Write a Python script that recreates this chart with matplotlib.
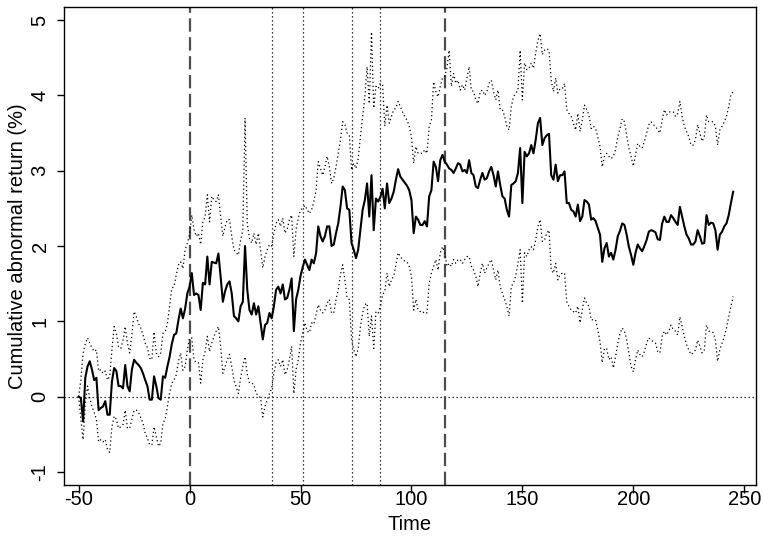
import matplotlib
matplotlib.use("Agg")
import matplotlib.pyplot as plt

# event time (days)
days = list(range(-50, 246))

# cumulative abnormal return (%), mean
car_mean = [
    0.00, -0.02, -0.33, 0.25, 0.40, 0.47, 0.36, 0.22, 0.25, -0.18,
    -0.15, -0.13, -0.06, -0.24, -0.24, 0.20, 0.38, 0.34, 0.14, 0.14,
    0.11, 0.42, 0.14, 0.07, 0.36, 0.49, 0.45, 0.42, 0.38, 0.31,
    0.22, 0.14, -0.04, -0.04, 0.27, 0.14, -0.02, -0.04, 0.27, 0.25,
    0.40, 0.53, 0.70, 0.82, 0.84, 1.02, 1.17, 1.04, 1.17, 1.37,
    1.46, 1.64, 1.35, 1.37, 1.35, 1.15, 1.51, 1.49, 1.86, 1.49,
    1.79, 1.78, 1.77, 1.90, 1.59, 1.26, 1.40, 1.49, 1.53, 1.37,
    1.07, 1.04, 1.00, 1.20, 1.26, 2.00, 1.42, 1.15, 1.09, 1.24,
    1.09, 1.20, 0.98, 0.76, 0.95, 0.98, 1.11, 1.04, 1.20, 1.42,
    1.46, 1.37, 1.49, 1.29, 1.31, 1.42, 1.57, 0.87, 1.29, 1.42,
    1.60, 1.72, 1.82, 1.75, 1.68, 1.82, 1.77, 1.90, 2.26, 2.13,
    2.06, 2.13, 2.26, 2.26, 2.00, 2.02, 2.17, 2.30, 2.52, 2.79,
    2.74, 2.50, 2.48, 2.04, 1.95, 1.84, 1.95, 2.21, 2.48, 2.61,
    2.83, 2.39, 2.94, 2.21, 2.63, 2.59, 2.65, 2.76, 2.50, 2.83,
    2.57, 2.63, 2.72, 2.88, 3.02, 2.92, 2.88, 2.84, 2.80, 2.74,
    2.61, 2.17, 2.39, 2.35, 2.28, 2.28, 2.33, 2.26, 2.66, 2.74,
    3.12, 3.05, 2.86, 3.14, 3.21, 3.12, 3.08, 3.03, 3.01, 2.97,
    3.03, 3.10, 3.08, 2.99, 3.01, 2.97, 3.14, 2.97, 2.94, 2.79,
    2.77, 2.88, 2.97, 2.88, 2.90, 2.99, 3.05, 2.94, 2.79, 2.99,
    2.81, 2.66, 2.63, 2.48, 2.39, 2.81, 2.83, 2.86, 2.97, 3.30,
    2.57, 3.25, 3.19, 3.23, 3.34, 3.23, 3.41, 3.63, 3.70, 3.34,
    3.43, 3.47, 3.49, 2.94, 2.88, 3.08, 2.86, 2.94, 2.94, 2.99,
    2.57, 2.57, 2.48, 2.46, 2.39, 2.55, 2.33, 2.39, 2.61, 2.59,
    2.55, 2.35, 2.37, 2.33, 2.24, 2.15, 1.79, 1.97, 2.04, 1.86,
    1.91, 1.82, 1.95, 2.13, 2.20, 2.30, 2.28, 2.15, 1.99, 1.88,
    1.75, 1.91, 2.02, 1.97, 1.93, 2.00, 2.08, 2.19, 2.21, 2.20,
    2.18, 2.09, 2.08, 2.30, 2.39, 2.32, 2.32, 2.41, 2.37, 2.32,
    2.28, 2.52, 2.39, 2.26, 2.15, 2.10, 2.02, 2.02, 2.06, 2.21,
    2.13, 2.03, 2.04, 2.41, 2.28, 2.31, 2.30, 2.21, 1.95, 2.15,
    2.19, 2.26, 2.30, 2.41, 2.57, 2.72,
]

# upper confidence band
car_upper = [
    0.00, 0.22, 0.58, 0.70, 0.78, 0.71, 0.65, 0.60, 0.62, 0.34,
    0.36, 0.31, 0.34, 0.22, 0.27, 0.62, 0.93, 0.84, 0.66, 0.64,
    0.75, 0.93, 0.71, 0.58, 0.82, 1.13, 1.06, 0.97, 0.91, 0.82,
    0.71, 0.65, 0.51, 0.49, 0.86, 0.58, 0.53, 0.58, 0.84, 0.86,
    0.97, 1.20, 1.44, 1.46, 1.62, 1.75, 1.79, 1.70, 1.95, 2.04,
    2.15, 2.41, 2.22, 2.13, 2.17, 2.02, 2.32, 2.39, 2.68, 2.32,
    2.66, 2.61, 2.59, 2.68, 2.39, 2.13, 2.26, 2.35, 2.35, 2.13,
    1.95, 1.91, 1.88, 2.08, 2.21, 3.70, 2.30, 2.10, 2.04, 2.17,
    2.02, 2.17, 1.95, 1.71, 1.86, 1.95, 2.02, 2.00, 2.17, 2.30,
    2.35, 2.26, 2.37, 2.17, 2.22, 2.35, 2.41, 1.86, 2.22, 2.37,
    2.48, 2.50, 2.54, 2.48, 2.43, 2.48, 2.59, 2.74, 3.12, 3.03,
    2.94, 3.05, 3.19, 3.05, 2.83, 2.90, 3.05, 3.23, 3.41, 3.65,
    3.61, 3.50, 3.47, 3.01, 3.10, 3.03, 3.16, 3.45, 3.72, 3.98,
    4.38, 3.89, 4.84, 3.83, 4.12, 4.09, 4.16, 4.14, 3.59, 3.87,
    3.63, 3.72, 3.81, 3.83, 3.92, 3.85, 3.78, 3.72, 3.67, 3.59,
    3.45, 3.10, 3.32, 3.23, 3.23, 3.23, 3.28, 3.23, 3.59, 3.67,
    4.18, 4.05, 3.98, 4.12, 4.23, 4.25, 4.36, 4.60, 4.12, 4.29,
    4.16, 4.20, 4.07, 4.14, 4.07, 4.23, 4.38, 4.07, 4.05, 3.94,
    3.89, 4.05, 4.07, 4.00, 4.05, 4.16, 4.20, 4.05, 3.94, 4.07,
    3.81, 3.81, 3.72, 3.59, 3.54, 3.85, 3.98, 4.03, 4.07, 4.60,
    3.94, 4.43, 4.34, 4.36, 4.43, 4.36, 4.56, 4.73, 4.82, 4.54,
    4.60, 4.62, 4.60, 4.20, 4.05, 4.23, 4.03, 4.09, 4.09, 4.16,
    3.81, 3.76, 3.72, 3.63, 3.54, 3.76, 3.52, 3.67, 3.87, 3.81,
    3.74, 3.56, 3.59, 3.56, 3.45, 3.32, 3.05, 3.19, 3.23, 3.19,
    3.16, 3.19, 3.28, 3.45, 3.56, 3.69, 3.65, 3.47, 3.30, 3.19,
    3.06, 3.21, 3.36, 3.32, 3.30, 3.39, 3.50, 3.61, 3.65, 3.61,
    3.59, 3.54, 3.50, 3.67, 3.81, 3.74, 3.78, 3.78, 3.78, 3.72,
    3.76, 3.92, 3.72, 3.59, 3.52, 3.45, 3.34, 3.34, 3.41, 3.61,
    3.50, 3.39, 3.45, 3.74, 3.65, 3.65, 3.65, 3.59, 3.34, 3.54,
    3.59, 3.65, 3.72, 3.85, 4.01, 4.05,
]

# lower confidence band
car_lower = [
    0.00, -0.30, -0.57, -0.10, 0.14, -0.02, -0.13, -0.21, -0.30, -0.60,
    -0.57, -0.60, -0.57, -0.70, -0.74, -0.40, -0.26, -0.30, -0.42, -0.40,
    -0.37, -0.18, -0.42, -0.42, -0.30, -0.18, -0.18, -0.21, -0.28, -0.35,
    -0.49, -0.55, -0.64, -0.64, -0.40, -0.53, -0.66, -0.62, -0.35, -0.30,
    -0.13, 0.05, 0.18, 0.22, 0.29, 0.47, 0.58, 0.35, 0.40, 0.62,
    0.78, 0.78, 0.49, 0.45, 0.45, 0.18, 0.49, 0.60, 0.80, 0.60,
    0.71, 0.80, 0.87, 0.93, 0.67, 0.31, 0.40, 0.49, 0.56, 0.40,
    0.22, 0.13, 0.04, 0.25, 0.40, 0.53, 0.30, 0.18, 0.18, 0.16,
    0.04, 0.02, -0.02, -0.27, -0.13, -0.04, 0.04, 0.11, 0.31, 0.45,
    0.49, 0.40, 0.49, 0.29, 0.36, 0.49, 0.67, 0.04, 0.36, 0.49,
    0.71, 0.85, 0.98, 0.87, 0.85, 0.98, 0.96, 1.09, 1.22, 1.15,
    1.11, 1.15, 1.24, 1.29, 1.11, 1.11, 1.29, 1.42, 1.62, 1.75,
    1.55, 1.31, 1.29, 0.76, 0.62, 0.53, 0.64, 0.93, 1.11, 1.22,
    1.24, 0.80, 1.07, 0.64, 1.13, 1.11, 1.20, 1.35, 1.40, 1.64,
    1.46, 1.55, 1.60, 1.75, 1.91, 1.86, 1.82, 1.80, 1.79, 1.73,
    1.60, 1.15, 1.29, 1.15, 1.13, 1.11, 1.13, 1.11, 1.51, 1.64,
    1.73, 1.82, 1.68, 1.91, 1.99, 1.91, 1.73, 1.77, 1.73, 1.82,
    1.77, 1.82, 1.82, 1.77, 1.82, 1.86, 1.86, 1.73, 1.68, 1.60,
    1.46, 1.64, 1.77, 1.64, 1.71, 1.77, 1.82, 1.68, 1.55, 1.68,
    1.46, 1.37, 1.29, 1.20, 1.07, 1.46, 1.51, 1.60, 1.77, 1.95,
    1.24, 1.91, 1.86, 1.95, 1.99, 1.95, 2.08, 2.26, 2.35, 2.06,
    2.08, 2.17, 2.21, 1.68, 1.64, 1.77, 1.55, 1.62, 1.64, 1.64,
    1.26, 1.20, 1.15, 1.13, 1.11, 1.20, 0.98, 1.15, 1.31, 1.24,
    1.20, 1.02, 1.02, 1.02, 0.89, 0.73, 0.45, 0.64, 0.64, 0.49,
    0.53, 0.38, 0.53, 0.71, 0.84, 0.91, 0.87, 0.76, 0.58, 0.40,
    0.33, 0.49, 0.62, 0.56, 0.53, 0.60, 0.71, 0.78, 0.75, 0.73,
    0.71, 0.60, 0.58, 0.80, 0.87, 0.82, 0.87, 0.95, 0.89, 0.87,
    0.82, 1.06, 0.93, 0.80, 0.69, 0.62, 0.56, 0.58, 0.62, 0.75,
    0.67, 0.58, 0.62, 0.95, 0.87, 0.87, 0.85, 0.75, 0.47, 0.62,
    0.71, 0.80, 0.91, 1.06, 1.20, 1.33,
]

event_days = [0, 115]              # dashed markers
sub_event_days = [37, 51, 73, 86]  # dotted markers

x_ticks = [-50, 0, 50, 100, 150, 200, 250]
y_ticks = [-1, 0, 1, 2, 3, 4, 5]

plt.rcParams['font.family'] = ['Liberation Sans', 'DejaVu Sans']
FS = 14.5

fig = plt.figure(figsize=(7.63, 5.40), dpi=100)
ax = fig.add_axes([64 / 763, 1 - 485 / 540, (756 - 64) / 763, (485 - 6.7) / 540])

dot = (0, (1, 2.2))
ax.axhline(0, color='black', lw=0.9, ls=dot)
for d in sub_event_days:
    ax.axvline(d, color='black', lw=0.9, ls=dot)
for d in event_days:
    ax.axvline(d, color='#4d4d4d', lw=1.6, ls=(0, (6, 2.5)))

ax.plot(days, car_upper, color='black', lw=0.9, ls=dot)
ax.plot(days, car_lower, color='black', lw=0.9, ls=dot)
ax.plot(days, car_mean, color='black', lw=1.5)

ax.set_xlim(-56.6, 255.3)
ax.set_ylim(-1.173, 5.177)
ax.set_xticks(x_ticks)
ax.set_xticklabels([str(v) for v in x_ticks])
ax.set_yticks(y_ticks)
ax.set_yticklabels([str(v) for v in y_ticks], rotation=90, va='center')

for s in ax.spines.values():
    s.set_linewidth(1.0)
ax.tick_params(axis='both', direction='out', length=5.4, width=1.0, labelsize=FS)
ax.tick_params(axis='x', pad=-1.5)
ax.tick_params(axis='y', pad=5)

fig.text(410 / 763, 1 - 524 / 540, 'Time', ha='center', va='center', fontsize=FS)
fig.text(18 / 763, 1 - 246 / 540, 'Cumulative abnormal return (%)',
         rotation=90, ha='center', va='center', fontsize=FS)

fig.savefig('out.png', dpi=100)
